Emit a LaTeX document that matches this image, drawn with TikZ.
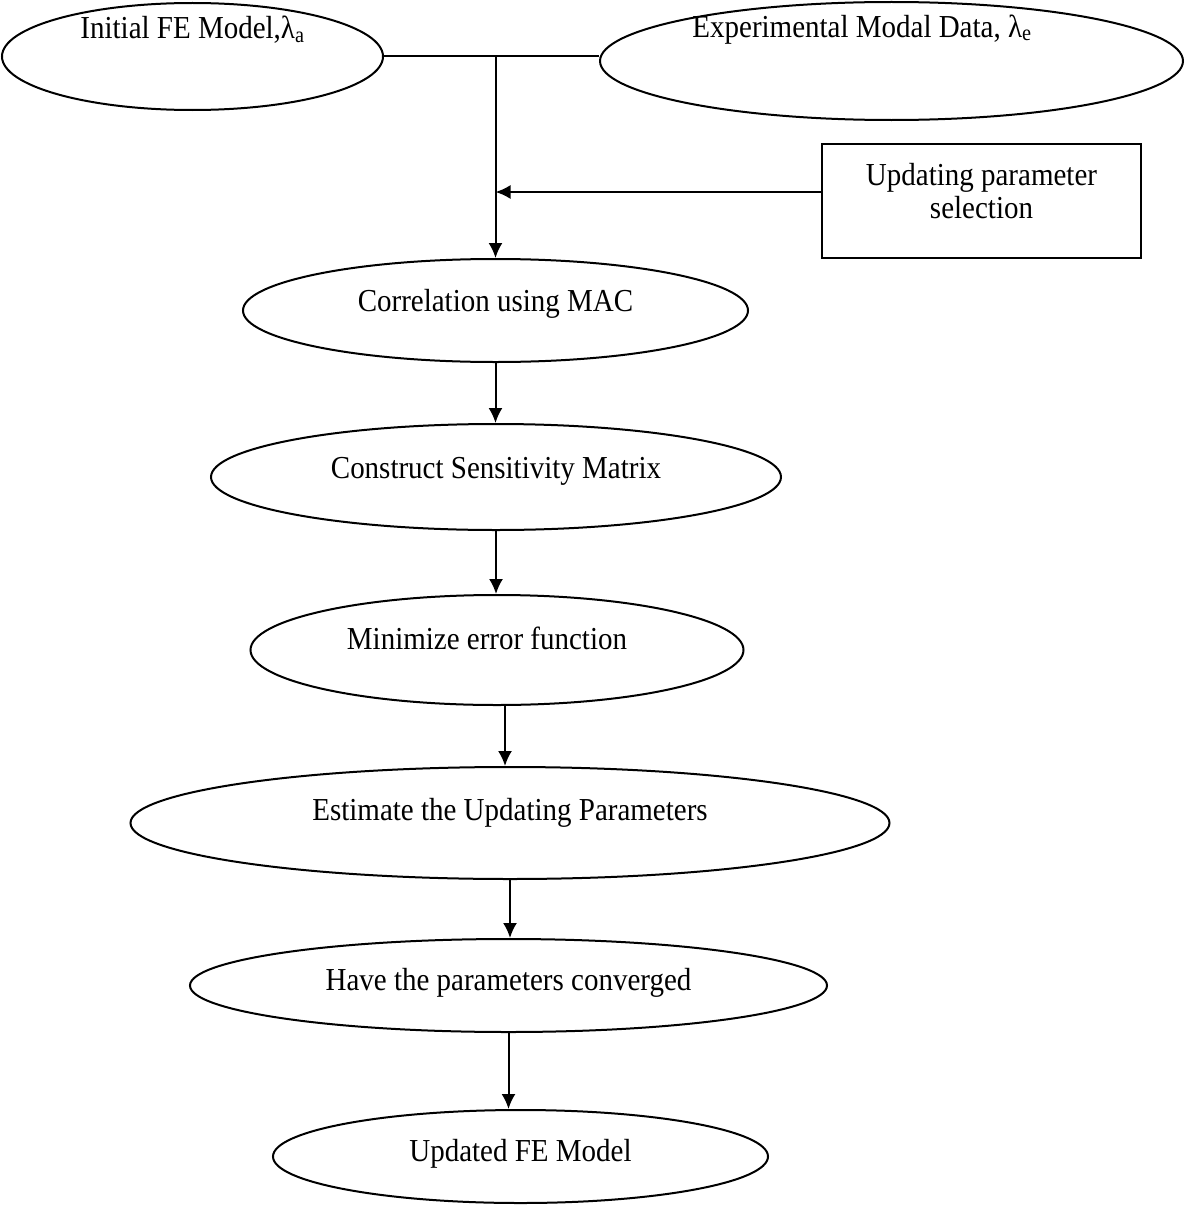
\documentclass[tikz,border=0pt]{standalone}
\usepackage{fontspec}
\setmainfont{Liberation Serif}[FakeStretch=0.906]
\usetikzlibrary{shapes,arrows.meta}
\tikzstyle{line} = [draw, -{Latex[length=15pt,width=14pt]}]
\tikzstyle{ell} = [draw, ellipse, inner sep=0pt, text height=10pt]
\tikzstyle{box} = [draw, rectangle, inner sep=0pt, align=center]

\begin{document}
\begin{tikzpicture}[x=1pt, y=-1pt, line width=2pt, font=\fontsize{32}{33}\selectfont]
\useasboundingbox (0,0) rectangle (1185,1207);
\node (init) at (192.5,56.5) [ell, minimum width=381pt, minimum height=107pt, text depth=45.8pt] {Initial FE Model,λ\textsubscript{a}};
\node (exp) at (891.5,61) [ell, minimum width=583pt, minimum height=118pt, text depth=57.8pt] {Experimental Modal Data, λ\textsubscript{e}\hspace*{59pt}};
\node (rect) at (981.5,201) [box, minimum width=319pt, minimum height=114pt] {Updating parameter\\selection\rule[-19.6pt]{0pt}{0pt}};
\node (corr) at (495.5,310.5) [ell, minimum width=505pt, minimum height=103pt, text depth=7.8pt] {Correlation using MAC};
\node (sens) at (496,477) [ell, minimum width=570pt, minimum height=106pt, text depth=6.8pt] {Construct Sensitivity Matrix};
\node (min) at (497,650) [ell, minimum width=493pt, minimum height=110pt, text depth=10.8pt] {Minimize error function\hspace*{20pt}};
\node (est) at (510,823) [ell, minimum width=759pt, minimum height=112pt, text depth=14.8pt] {Estimate the Updating Parameters};
\node (have) at (508.5,985.5) [ell, minimum width=637pt, minimum height=93pt, text depth=-4.2pt] {Have the parameters converged};
\node (upd) at (520.5,1156.5) [ell, minimum width=495pt, minimum height=93pt, text depth=-2.2pt] {Updated FE Model};
% join the two inputs
\coordinate (junc) at (init.east -| corr.north);
\path [draw] (init.east) -- (init.east -| exp.west);
\path [line] (junc) -- (corr.north);
\path [line] ([yshift=9pt]rect.west) -- ([yshift=9pt]rect.west -| junc);
% main flow
\path [line] (corr.south) -- (corr.south |- sens.north);
\path [line] (sens.south) -- (sens.south |- min.north);
\path [line] ([xshift=8pt]min.south) -- ([xshift=8pt]min.south |- est.north);
\path [line] (est.south) -- (est.south |- have.north);
\path [line] (have.south) -- (have.south |- upd.north);
\end{tikzpicture}
\end{document}
